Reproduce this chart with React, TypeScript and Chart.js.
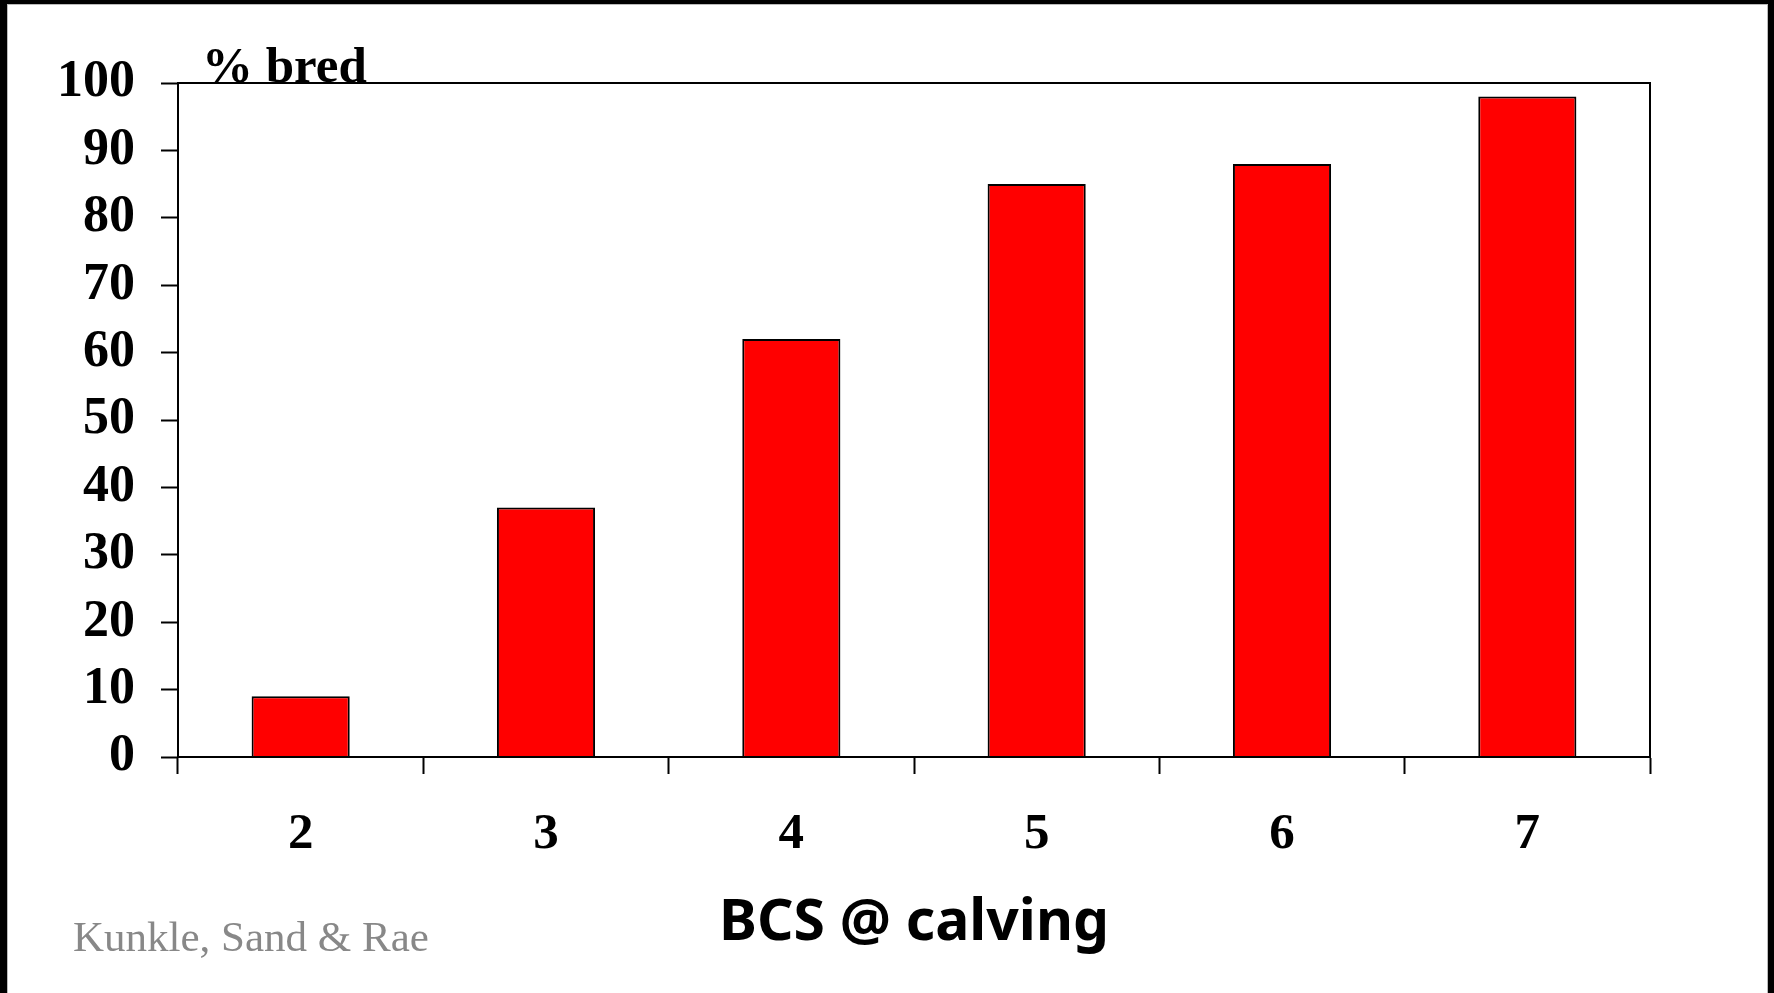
import React, { useEffect, useRef } from "react";
import { Chart, registerables } from "chart.js";

Chart.register(...registerables);

const categories = ["2", "3", "4", "5", "6", "7"];
const percentBred = [9, 37, 62, 85, 88, 98];
const yTicks = [0, 10, 20, 30, 40, 50, 60, 70, 80, 90, 100];

const W = 1774;
const H = 993;

const overlayPlugin = {
  id: "overlay",
  afterDraw(chart: any) {
    const { ctx, chartArea } = chart;
    ctx.save();
    // plot frame
    ctx.strokeStyle = "#000";
    ctx.lineWidth = 2;
    ctx.strokeRect(chartArea.left, chartArea.top, chartArea.right - chartArea.left, chartArea.bottom - chartArea.top);
    // y title
    ctx.fillStyle = "#000";
    ctx.font = "bold 51px 'Liberation Serif', 'Times New Roman', serif";
    ctx.textAlign = "left";
    ctx.textBaseline = "alphabetic";
    ctx.fillText("% bred", 202, 82);
    // x title
    ctx.font = "bold 57px 'Comic Sans MS', 'Noto Sans', sans-serif";
    ctx.textAlign = "center";
    ctx.fillText("BCS @ calving", (chartArea.left + chartArea.right) / 2, 940);
    // citation
    ctx.fillStyle = "#888";
    ctx.font = "43px 'Liberation Serif', 'Times New Roman', serif";
    ctx.textAlign = "left";
    ctx.fillText("Kunkle, Sand & Rae", 73, 951);
    ctx.restore();
  },
};

export default function App() {
  const ref = useRef<HTMLCanvasElement>(null);
  useEffect(() => {
    document.body.style.margin = "0";
    const chart = new Chart(ref.current!, {
      type: "bar",
      data: {
        labels: categories,
        datasets: [
          {
            data: percentBred,
            backgroundColor: "#FF0000",
            borderColor: "#000",
            borderWidth: 2,
            barPercentage: 0.4,
            categoryPercentage: 1,
          },
        ],
      },
      options: {
        responsive: false,
        animation: false,
        layout: { padding: { left: 0, top: 83, right: 124, bottom: 0 } },
        plugins: { legend: { display: false }, tooltip: { enabled: false } },
        scales: {
          x: {
            afterFit: (s: any) => { s.height = 236; },
            grid: { drawOnChartArea: false, drawTicks: true, tickLength: 17, tickColor: "#000", tickWidth: 2, offset: true },
            border: { color: "#000", width: 2 },
            ticks: {
              color: "#000",
              padding: 30,
              font: { family: "'Liberation Serif', 'Times New Roman', serif", size: 51, weight: "bold" },
            },
          },
          y: {
            min: 0,
            max: 100,
            afterFit: (s: any) => { s.width = 178; },
            afterBuildTicks: (s: any) => { s.ticks = yTicks.map((v) => ({ value: v })); },
            grid: { drawOnChartArea: false, drawTicks: true, tickLength: 17, tickColor: "#000", tickWidth: 2 },
            border: { color: "#000", width: 2 },
            ticks: {
              color: "#000",
              padding: 26,
              font: { family: "'Liberation Serif', 'Times New Roman', serif", size: 52, weight: "bold" },
            },
          },
        },
      },
      plugins: [overlayPlugin],
    });
    return () => chart.destroy();
  }, []);
  return (
    <div style={{ position: "absolute", left: 0, top: 0, width: W, height: H, background: "#000", overflow: "hidden" }}>
      <div style={{ position: "absolute", left: 7, top: 4, width: 1768 - 7, height: H, background: "#fff", borderLeft: "1px solid #bbb", borderTop: "1px solid #bbb", borderRight: "1px solid #bbb", boxSizing: "border-box" }} />
      <canvas ref={ref} width={W} height={H} style={{ position: "absolute", left: 0, top: 0 }} />
    </div>
  );
}
